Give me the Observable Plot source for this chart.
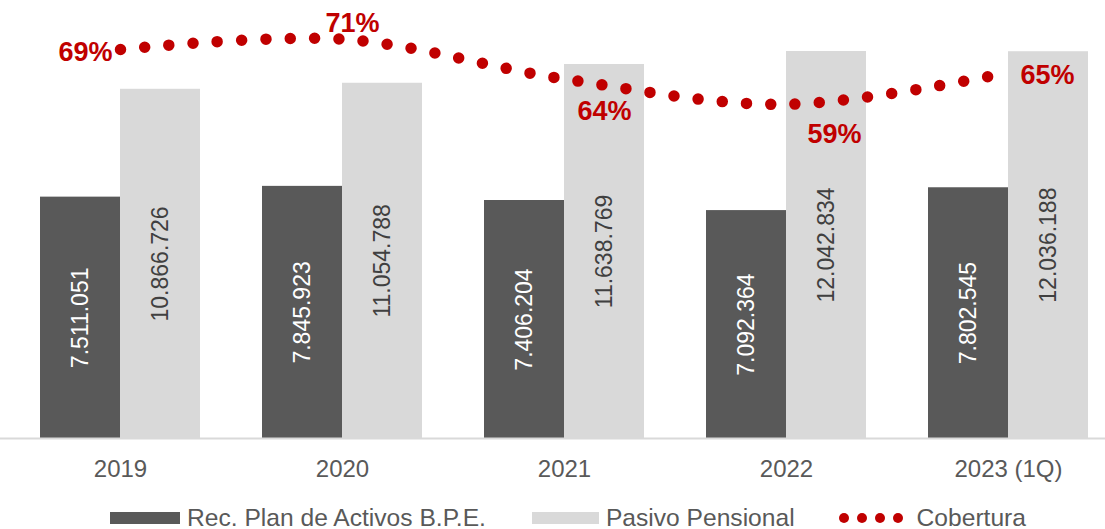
<!DOCTYPE html>
<html>
<head>
<meta charset="utf-8">
<script src="https://cdn.jsdelivr.net/npm/d3@7"></script>
<script src="https://cdn.jsdelivr.net/npm/@observablehq/plot@0.6"></script>
<style>
  html, body { margin: 0; padding: 0; background: #fff; }
  #wrap { position: relative; width: 1105px; height: 490px; }
  #wrap svg { position: absolute; left: 0; top: 0; }
  #legend { display: flex; align-items: center; padding-left: 110px; margin-top: 15px;
    font-family: "Liberation Sans", Arial, sans-serif; font-size: 24.6px; color: #595959; line-height: 26px; }
  .sw { display: inline-block; height: 12px; margin-right: 7px; }
  .item { display: flex; align-items: center; white-space: nowrap; }
  .dots { display: inline-flex; gap: 8px; margin-right: 14px; }
  .dots span { display: inline-block; width: 10px; height: 10px; border-radius: 50%; background: #C00000; }
</style>
</head>
<body>
<div id="wrap"></div>
<div id="legend">
  <div class="item"><span class="sw" style="width:70px;background:#595959"></span>Rec. Plan de Activos B.P.E.</div>
  <div class="item" style="margin-left:46px"><span class="sw" style="width:67px;background:#D9D9D9"></span>Pasivo Pensional</div>
  <div class="item" style="margin-left:44px"><span class="dots"><span></span><span></span><span></span><span></span></span>Cobertura</div>
</div>
<script>
const years = ["2019", "2020", "2021", "2022", "2023 (1Q)"];
const activos = [7511051, 7845923, 7406204, 7092364, 7802545];
const pasivo = [10866726, 11054788, 11638769, 12042834, 12036188];
const cobertura = [69.1, 71.0, 63.6, 58.9, 64.8];
const coberturaLabels = ["69%", "71%", "64%", "59%", "65%"];

const fmt = d3.formatLocale({decimal: ",", thousands: ".", grouping: [3], currency: ["", ""]}).format(",d");

const rowsA = years.map((y, i) => ({year: y, value: activos[i]}));
const rowsP = years.map((y, i) => ({year: y, value: pasivo[i]}));
const rowsC = years.map((y, i) => ({year: y, cov: cobertura[i], label: coberturaLabels[i]}));

// label placement (style only)
const place = [
  {anchor: "end", dx: -8, dy: 3},
  {anchor: "middle", dx: 10, dy: -16},
  {anchor: "middle", dx: 40, dy: 32},
  {anchor: "middle", dx: 48, dy: 30},
  {anchor: "start", dx: 12, dy: 3}
];

const W = 1105, H = 490, MB = 52;
const xScale = {type: "band", domain: years, range: [9, 1119], paddingInner: 0.28, paddingOuter: 0.14};
const baseStyle = {fontFamily: "Liberation Sans, Arial, sans-serif", fontSize: "24px", background: "transparent", overflow: "visible"};
const half = 160 / 2;

const bars = Plot.plot({
  width: W, height: H, marginTop: 0, marginBottom: MB, marginLeft: 0, marginRight: 0,
  style: baseStyle,
  x: xScale,
  y: {domain: [0, 13630000], axis: null},
  marks: [
    Plot.barY(rowsA, {x: "year", y: "value", fill: "#595959", insetRight: half}),
    Plot.barY(rowsP, {x: "year", y: "value", fill: "#D9D9D9", insetLeft: half}),
    Plot.ruleY([0], {stroke: "#D9D9D9", strokeWidth: 2}),
    Plot.text(rowsA, {x: "year", y: d => d.value / 2, text: d => fmt(d.value), rotate: -90, dx: -half / 2,
      fill: "#FFFFFF", fontSize: 23, textAnchor: "middle", lineAnchor: "middle"}),
    Plot.text(rowsP, {x: "year", y: d => d.value / 2, text: d => fmt(d.value), rotate: -90, dx: half / 2,
      fill: "#404040", fontSize: 23, textAnchor: "middle", lineAnchor: "middle"}),
    Plot.axisX({tickSize: 0, tickPadding: 21, color: "#595959", fontSize: 24, label: null})
  ]
});

const line = Plot.plot({
  width: W, height: H, marginTop: 0, marginBottom: MB, marginLeft: 0, marginRight: 0,
  style: baseStyle,
  x: {...xScale, axis: null},
  y: {domain: [-3.2, 78.2], axis: null},
  marks: [
    Plot.lineY(rowsC, {x: "year", y: "cov", curve: "catmull-rom", stroke: "#C00000", strokeWidth: 11.5,
      strokeDasharray: "0 24.3", strokeLinecap: "round"}),
    ...rowsC.map((r, i) => Plot.text([r], {x: "year", y: "cov", text: "label", fill: "#C00000",
      fontWeight: "bold", fontSize: 27, textAnchor: place[i].anchor, dx: place[i].dx, dy: place[i].dy,
      lineAnchor: "middle"}))
  ]
});

const wrap = document.getElementById("wrap");
wrap.appendChild(bars);
wrap.appendChild(line);
</script>
</body>
</html>
